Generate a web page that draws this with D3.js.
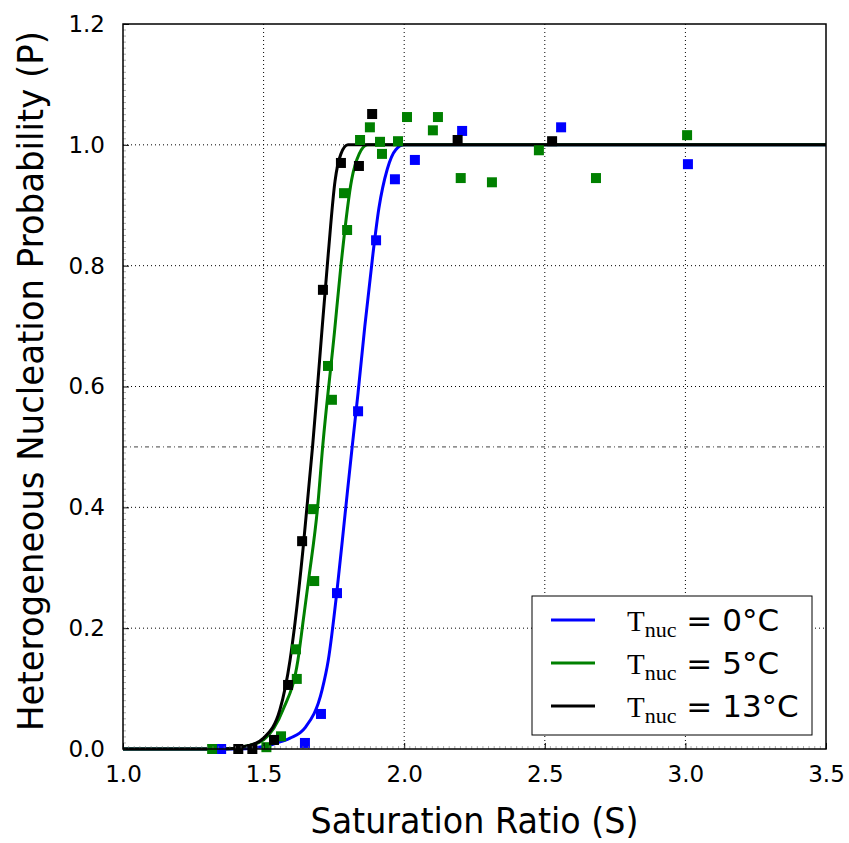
<!DOCTYPE html>
<html>
<head>
<meta charset="utf-8">
<script src="https://cdn.jsdelivr.net/npm/d3@7"></script>
<style>
  body { margin: 0; background: #fff; }
  svg { display: block; }
</style>
</head>
<body>
<div id="chart"></div>
<script>
// measured points (S, P) per nucleation temperature
var blueS = [1.349, 1.647, 1.704, 1.761, 1.836, 1.900, 1.967, 2.038, 2.206, 2.558, 3.009];
var blueP = [0.000, 0.010, 0.058, 0.258, 0.559, 0.842, 0.943, 0.975, 1.023, 1.029, 0.968];

var greenS = [1.317, 1.510, 1.562, 1.615, 1.618, 1.676, 1.680, 1.729, 1.743, 1.786, 1.797, 1.843, 1.878, 1.914, 1.921, 1.978, 2.010, 2.102, 2.120, 2.201, 2.312, 2.479, 2.682, 3.006];
var greenP = [0.000, 0.003, 0.021, 0.165, 0.116, 0.397, 0.278, 0.634, 0.578, 0.920, 0.859, 1.008, 1.029, 1.005, 0.985, 1.006, 1.046, 1.024, 1.046, 0.945, 0.938, 0.991, 0.945, 1.016];

var blackS = [1.41, 1.46, 1.537, 1.587, 1.637, 1.711, 1.775, 1.839, 1.886, 2.190, 2.526];
var blackP = [0.000, 0.000, 0.015, 0.106, 0.344, 0.760, 0.970, 0.965, 1.051, 1.008, 1.006];

// fitted curves
var blueFitS = [1.0, 1.40, 1.50, 1.547, 1.594, 1.647, 1.708, 1.73, 1.761, 1.79, 1.815, 1.836, 1.86, 1.889, 1.91, 1.94, 1.97, 2.0, 3.5];
var blueFitP = [0.0, 0.0, 0.004, 0.010, 0.018, 0.035, 0.098, 0.147, 0.262, 0.39, 0.50, 0.59, 0.70, 0.82, 0.895, 0.96, 0.992, 1.0, 1.0];

var greenFitS = [1.0, 1.35, 1.45, 1.50, 1.569, 1.622, 1.641, 1.66, 1.692, 1.71, 1.752, 1.775, 1.813, 1.84, 1.87, 3.5];
var greenFitP = [0.0, 0.0, 0.006, 0.015, 0.065, 0.147, 0.213, 0.28, 0.40, 0.50, 0.69, 0.80, 0.942, 0.985, 1.0, 1.0];

var blackFitS = [1.0, 1.35, 1.45, 1.50, 1.558, 1.594, 1.612, 1.64, 1.663, 1.674, 1.69, 1.707, 1.73, 1.754, 1.775, 1.80, 3.5];
var blackFitP = [0.0, 0.0, 0.006, 0.018, 0.065, 0.147, 0.21, 0.33, 0.445, 0.50, 0.59, 0.69, 0.82, 0.94, 0.985, 1.0, 1.0];

var legendLabels = ["0°C", "5°C", "13°C"];
var xTicks = [1.0, 1.5, 2.0, 2.5, 3.0, 3.5];
var yTicks = [0.0, 0.2, 0.4, 0.6, 0.8, 1.0, 1.2];

var series = [
  { s: blueS, p: blueP, fs: blueFitS, fp: blueFitP, color: "#0000ff", label: legendLabels[0] },
  { s: greenS, p: greenP, fs: greenFitS, fp: greenFitP, color: "#008000", label: legendLabels[1] },
  { s: blackS, p: blackP, fs: blackFitS, fp: blackFitP, color: "#000000", label: legendLabels[2] }
];

var margin = { top: 24, right: 23, bottom: 94, left: 123 },
    width = 849 - margin.left - margin.right,
    height = 843 - margin.top - margin.bottom;

var svg = d3.select("#chart")
  .append("svg")
  .attr("width", 849)
  .attr("height", 843)
  .append("g")
  .attr("transform", "translate(" + margin.left + "," + margin.top + ")");

var x = d3.scaleLinear().domain([1.0, 3.5]).range([0, width]);
var y = d3.scaleLinear().domain([0, 1.2]).range([height, 0]);

// grid
svg.selectAll(".vgrid")
  .data(xTicks.slice(1, -1))
  .enter().append("line")
  .attr("x1", function (d) { return x(d); })
  .attr("x2", function (d) { return x(d); })
  .attr("y1", 0).attr("y2", height)
  .attr("stroke", "#000").attr("stroke-width", 1)
  .attr("stroke-dasharray", "1,3");
svg.selectAll(".hgrid")
  .data(yTicks.slice(1, -1))
  .enter().append("line")
  .attr("x1", 0).attr("x2", width)
  .attr("y1", function (d) { return y(d); })
  .attr("y2", function (d) { return y(d); })
  .attr("stroke", "#000").attr("stroke-width", 1)
  .attr("stroke-dasharray", "1,3");
// P = 0.5 reference
svg.append("line")
  .attr("x1", 0).attr("x2", width)
  .attr("y1", y(0.5)).attr("y2", y(0.5))
  .attr("stroke", "#444").attr("stroke-width", 1)
  .attr("stroke-dasharray", "4,3,1,3");

// fitted curves
var line = d3.line()
  .x(function (d) { return x(d[0]); })
  .y(function (d) { return y(d[1]); })
  .curve(d3.curveMonotoneX);

series.forEach(function (sr) {
  svg.append("path")
    .datum(d3.zip(sr.fs, sr.fp))
    .attr("fill", "none")
    .attr("stroke", sr.color)
    .attr("stroke-width", 3)
    .attr("d", line);
});

// markers
series.forEach(function (sr) {
  svg.selectAll(null)
    .data(d3.zip(sr.s, sr.p))
    .enter().append("rect")
    .attr("x", function (d) { return x(d[0]) - 5; })
    .attr("y", function (d) { return y(d[1]) - 5; })
    .attr("width", 10).attr("height", 10)
    .attr("fill", sr.color);
});

// axes
var xAxis = svg.append("g")
  .attr("transform", "translate(0," + height + ")")
  .call(d3.axisBottom(x).tickValues(xTicks).tickFormat(d3.format(".1f")).tickSize(-6).tickPadding(17));
var yAxis = svg.append("g")
  .call(d3.axisLeft(y).tickValues(yTicks).tickFormat(d3.format(".1f")).tickSize(-6).tickPadding(18));
[xAxis, yAxis].forEach(function (a) {
  a.select(".domain").remove();
  a.selectAll("text")
    .style("font-family", "DejaVu Sans")
    .style("font-size", "23px")
    .attr("fill", "#000");
});

// minor ticks
svg.selectAll(".xminor")
  .data(d3.range(1.0, 3.5001, 0.02))
  .enter().append("line")
  .attr("x1", function (d) { return x(d); }).attr("x2", function (d) { return x(d); })
  .attr("y1", height).attr("y2", height - 3)
  .attr("stroke", "#777").attr("stroke-width", 0.6);
svg.selectAll(".yminor")
  .data(d3.range(0, 1.2001, 0.01))
  .enter().append("line")
  .attr("x1", 0).attr("x2", 3)
  .attr("y1", function (d) { return y(d); }).attr("y2", function (d) { return y(d); })
  .attr("stroke", "#777").attr("stroke-width", 0.6);

// frame
svg.append("rect")
  .attr("width", width).attr("height", height)
  .attr("fill", "none").attr("stroke", "#000").attr("stroke-width", 1.5);

// axis titles (condensed look forced through textLength)
svg.append("text")
  .attr("x", width / 2).attr("y", height + 84)
  .attr("text-anchor", "middle")
  .attr("textLength", 328).attr("lengthAdjust", "spacingAndGlyphs")
  .style("font-family", "DejaVu Sans")
  .style("font-size", "36px")
  .text("Saturation Ratio (S)");
svg.append("text")
  .attr("transform", "translate(" + (-80) + "," + (357) + ") rotate(-90)")
  .attr("text-anchor", "middle")
  .attr("textLength", 700).attr("lengthAdjust", "spacingAndGlyphs")
  .style("font-family", "DejaVu Sans")
  .style("font-size", "35px")
  .text("Heterogeneous Nucleation Probability (P)");

// legend
var lg = svg.append("g").attr("transform", "translate(" + (532 - margin.left) + "," + (596 - margin.top) + ")");
lg.append("rect")
  .attr("width", 280).attr("height", 139)
  .attr("fill", "#fff").attr("stroke", "#000").attr("stroke-width", 1);
series.forEach(function (sr, i) {
  var gy = 24 + i * 43;
  lg.append("line")
    .attr("x1", 19).attr("x2", 63).attr("y1", gy).attr("y2", gy)
    .attr("stroke", sr.color).attr("stroke-width", 3);
  var t = lg.append("text").attr("x", 95).attr("y", gy + 11)
    .style("font-size", "29px");
  t.append("tspan").style("font-family", "Liberation Serif").text("T");
  t.append("tspan").style("font-family", "Liberation Serif").style("font-size", "22px")
    .attr("dy", 6).text("nuc");
  t.append("tspan").style("font-family", "DejaVu Sans").style("font-size", "31px")
    .attr("dy", -6).text(" = " + sr.label);
});
</script>
</body>
</html>
